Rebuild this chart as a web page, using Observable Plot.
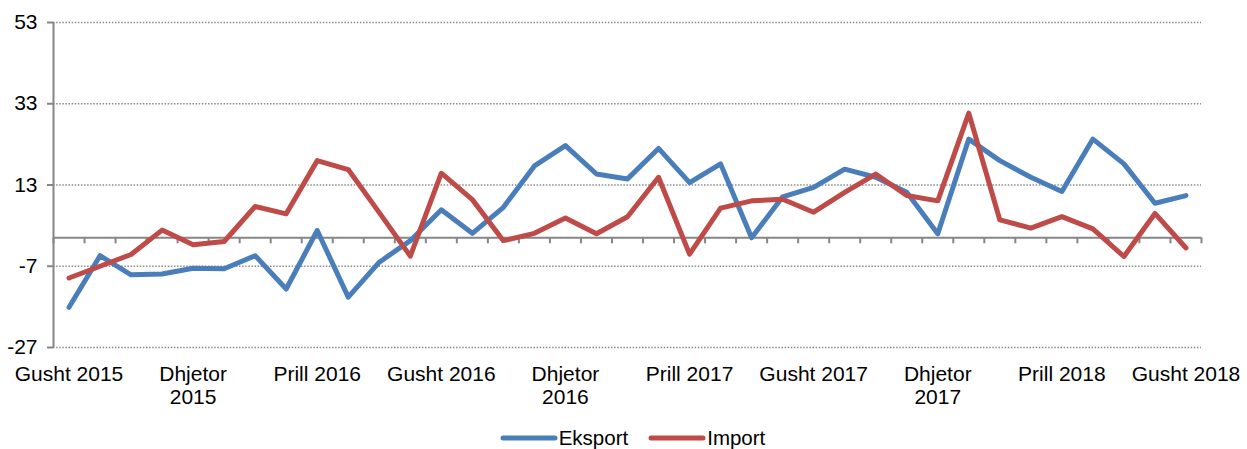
<!DOCTYPE html>
<html>
<head>
<meta charset="utf-8">
<script src="https://cdn.jsdelivr.net/npm/d3@7"></script>
<script src="https://cdn.jsdelivr.net/npm/@observablehq/plot@0.6"></script>
<style>
  html, body { margin: 0; padding: 0; background: #fff; }
  body { width: 1247px; height: 449px; overflow: hidden; font-family: "Liberation Sans", Arial, sans-serif; }
  #legend { display: flex; justify-content: center; align-items: center; margin-top: 6px; padding-left: 38px; font-size: 20.5px; color: #000; }
  #legend .item { display: flex; align-items: center; margin: 0 20px 0 0; }
  #legend svg { display: block; margin-right: 1px; }
</style>
</head>
<body>
<div id="chart"></div>
<div id="legend"></div>
<script>
const months = [
  "Gusht 2015","Shtator 2015","Tetor 2015","Nëntor 2015","Dhjetor 2015",
  "Janar 2016","Shkurt 2016","Mars 2016","Prill 2016","Maj 2016","Qershor 2016","Korrik 2016",
  "Gusht 2016","Shtator 2016","Tetor 2016","Nëntor 2016","Dhjetor 2016",
  "Janar 2017","Shkurt 2017","Mars 2017","Prill 2017","Maj 2017","Qershor 2017","Korrik 2017",
  "Gusht 2017","Shtator 2017","Tetor 2017","Nëntor 2017","Dhjetor 2017",
  "Janar 2018","Shkurt 2018","Mars 2018","Prill 2018","Maj 2018","Qershor 2018","Korrik 2018",
  "Gusht 2018"
];
const eksport = [-17.1,-4.4,-9.1,-8.9,-7.5,-7.6,-4.4,-12.6,1.8,-14.6,-6.0,-0.7,
  6.9,1.1,7.5,17.7,22.7,15.7,14.5,22.0,13.6,18.2,0.0,10.1,
  12.4,16.9,14.9,11.2,1.0,24.3,19.0,14.9,11.4,24.3,18.2,8.5,10.4];
const importV = [-9.9,-7.0,-4.1,1.9,-1.7,-0.9,7.7,5.9,19.0,16.8,6.2,-4.5,
  15.9,9.4,-0.7,1.1,4.9,1.0,5.2,14.9,-4.0,7.3,9.1,9.5,
  6.3,11.2,15.7,10.4,9.1,30.7,4.4,2.4,5.2,2.2,-4.6,6.0,-2.5];
const tickLabels = ["Gusht 2015","Dhjetor\n2015","Prill 2016","Gusht 2016","Dhjetor\n2016",
  "Prill 2017","Gusht 2017","Dhjetor\n2017","Prill 2018","Gusht 2018"];
const yTicks = [-27,-7,13,33,53];
const seriesNames = ["Eksport","Import"];
const colors = ["#4a7ebb","#be4b48"];

const rows = [];
months.forEach((m, i) => {
  rows.push({i, month: m, series: "Eksport", value: eksport[i]});
  rows.push({i, month: m, series: "Import", value: importV[i]});
});
const tickIdx = tickLabels.map(l => months.indexOf(l.replace("\n", " ")));
const labelOf = new Map(tickIdx.map((k, j) => [k, tickLabels[j]]));
const bounds = d3.range(months.length + 1).map(k => k - 0.5);
const grey = "#868686";

const chart = Plot.plot({
  width: 1247,
  height: 420,
  marginLeft: 53,
  marginRight: 46,
  marginTop: 22,
  marginBottom: 73,
  style: {fontFamily: "'Liberation Sans', Arial, sans-serif", fontSize: "21px", color: "#000", background: "#fff"},
  x: {type: "linear", domain: [-0.5, months.length - 0.5]},
  y: {domain: [-27, 53]},
  color: {domain: seriesNames, range: colors},
  marks: [
    Plot.gridY(yTicks, {stroke: "#8a8a8a", strokeOpacity: 1, strokeWidth: 1.3, strokeDasharray: "1.5,1.6"}),
    Plot.ruleX([-0.5], {y1: -27, y2: 53, stroke: grey, strokeWidth: 2}),
    Plot.ruleY([0], {stroke: grey, strokeWidth: 2}),
    Plot.ruleX(bounds, {x: d => d, y1: 0, y2: 0, insetTop: 0, insetBottom: -6, stroke: grey, strokeWidth: 2}),
    Plot.axisY(yTicks, {tickSize: 6, tickPadding: 10, stroke: grey, strokeWidth: 2, fontSize: 21, fill: "#000", label: null, tickFormat: d => String(d)}),
    Plot.axisX(tickIdx, {tickSize: 0, tickPadding: 17, tickFormat: k => labelOf.get(k), fontSize: 21, fill: "#000", lineHeight: 1.1, label: null}),
    Plot.line(rows, {x: "i", y: "value", z: "series", stroke: "series", strokeWidth: 5, strokeLinejoin: "round", strokeLinecap: "round"})
  ]
});
document.getElementById("chart").appendChild(chart);

const legend = document.getElementById("legend");
seriesNames.forEach((name, k) => {
  const item = document.createElement("div");
  item.className = "item";
  item.innerHTML = `<svg width="58" height="10"><line x1="3" y1="5" x2="55" y2="5" stroke="${colors[k]}" stroke-width="5" stroke-linecap="round"/></svg><span>${name}</span>`;
  legend.appendChild(item);
});
</script>
</body>
</html>
